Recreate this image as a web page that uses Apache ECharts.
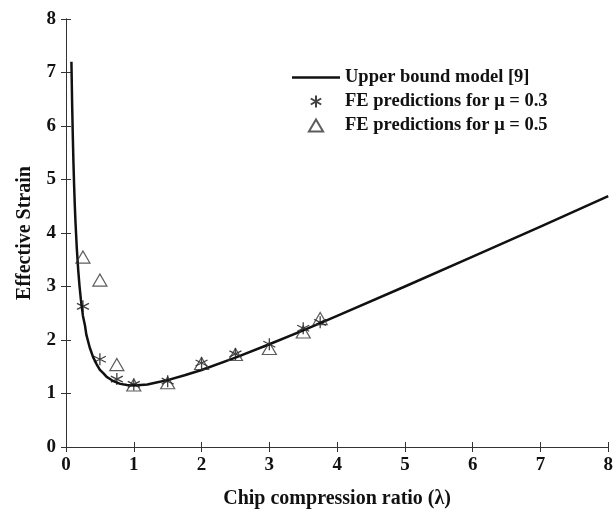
<!DOCTYPE html>
<html>
<head>
<meta charset="utf-8">
<script src="https://cdn.jsdelivr.net/npm/echarts@6/dist/echarts.min.js"></script>
<style>
  html, body { margin: 0; padding: 0; background: #fff; }
  #chart { width: 616px; height: 514px; }
</style>
</head>
<body>
<div id="chart"></div>
<script>
// values
const modelX = [0.08, 0.09, 0.1, 0.11, 0.12, 0.13, 0.14, 0.16, 0.18, 0.2, 0.22, 0.25, 0.28, 0.3, 0.35, 0.4, 0.45, 0.5, 0.55, 0.6, 0.65, 0.7, 0.8, 0.9, 1.0, 1.1, 1.2, 1.35, 1.5, 1.75, 2.0, 2.5, 3.0, 3.5, 4.0, 5.0, 6.0, 7.0, 8.0]
const modelY = [7.2, 6.45, 5.83, 5.31, 4.88, 4.51, 4.2, 3.7, 3.31, 3.0, 2.75, 2.45, 2.27, 2.1, 1.86, 1.68, 1.55, 1.44, 1.38, 1.31, 1.27, 1.23, 1.18, 1.16, 1.15, 1.16, 1.17, 1.21, 1.25, 1.34, 1.44, 1.67, 1.92, 2.18, 2.45, 3.0, 3.56, 4.12, 4.69]

const feX = [0.25, 0.5, 0.75, 1.0, 1.5, 2.0, 2.5, 3.0, 3.5, 3.75]
const fe03 = [2.63, 1.64, 1.27, 1.17, 1.23, 1.57, 1.74, 1.92, 2.22, 2.33]
const fe05 = [3.55, 3.12, 1.54, 1.16, 1.2, 1.56, 1.73, 1.84, 2.15, 2.4]

const xTicks = ['0', '1', '2', '3', '4', '5', '6', '7', '8']
const yTicks = ['0', '1', '2', '3', '4', '5', '6', '7', '8']

const seriesNames = ['Upper bound model [9]', 'FE predictions for \u03bc = 0.3', 'FE predictions for \u03bc = 0.5']

const font = '"Liberation Serif", "Times New Roman", serif'
const ink = '#111'
const asterisk = 'path://M0,-6 L0,6 M-5.2,-3 L5.2,3 M-5.2,3 L5.2,-3'
const triangle = 'path://M0,-6 L6.5,5 L-6.5,5 Z'
const lineIcon = 'path://M0,0 L48,0 L48,2.6 L0,2.6 Z'

function zip(xs, ys) {
  return xs.map((x, i) => [x, ys[i]])
}

const chart = echarts.init(document.getElementById('chart'))

const axisLine = { show: true, lineStyle: { color: '#333', width: 1 } }
const tick = { show: true, inside: true, length: 5, lineStyle: { color: '#333' } }

chart.setOption({
  animation: false,
  backgroundColor: '#fff',
  grid: { left: 66, right: 3, top: 19, bottom: 67 },
  legend: {
    orient: 'vertical',
    left: 287,
    top: 63,
    itemWidth: 48,
    itemHeight: 12,
    itemGap: 5,
    symbolKeepAspect: true,
    textStyle: { fontFamily: font, fontWeight: 'bold', fontSize: 18.5, lineHeight: 18, color: ink },
    data: [
      { name: seriesNames[0], icon: lineIcon },
      { name: seriesNames[1], icon: asterisk },
      { name: seriesNames[2], icon: triangle }
    ]
  },
  xAxis: [{
    type: 'value',
    min: 0,
    max: 8,
    interval: 1,
    name: 'Chip compression ratio (\u03bb)',
    nameLocation: 'middle',
    nameGap: 42,
    nameTextStyle: { fontFamily: font, fontWeight: 'bold', fontSize: 20, color: ink },
    axisLine: axisLine,
    axisTick: tick,
    splitLine: { show: false },
    axisLabel: {
      margin: 9,
      fontFamily: font, fontWeight: 'bold', fontSize: 19, color: ink,
      formatter: v => xTicks[Math.round(v)]
    }
  }, {
    type: 'value',
    position: 'top',
    min: 0,
    max: 8,
    interval: 1,
    axisLine: axisLine,
    axisTick: tick,
    axisLabel: { show: false },
    splitLine: { show: false }
  }],
  yAxis: [{
    type: 'value',
    min: 0,
    max: 8,
    interval: 1,
    name: 'Effective Strain',
    nameLocation: 'middle',
    nameGap: 31,
    nameTextStyle: { fontFamily: font, fontWeight: 'bold', fontSize: 20, color: ink },
    axisLine: axisLine,
    axisTick: tick,
    splitLine: { show: false },
    axisLabel: {
      margin: 10,
      fontFamily: font, fontWeight: 'bold', fontSize: 19, color: ink,
      formatter: v => yTicks[Math.round(v)]
    }
  }, {
    type: 'value',
    position: 'right',
    min: 0,
    max: 8,
    interval: 1,
    axisLine: axisLine,
    axisTick: tick,
    axisLabel: { show: false },
    splitLine: { show: false }
  }],
  series: [{
    name: seriesNames[0],
    type: 'line',
    data: zip(modelX, modelY),
    symbol: 'none',
    lineStyle: { color: ink, width: 2.5, join: 'round' },
    itemStyle: { color: ink },
    z: 2
  }, {
    name: seriesNames[1],
    type: 'scatter',
    data: zip(feX, fe03),
    symbol: asterisk,
    symbolSize: 12,
    itemStyle: { color: ink, borderColor: ink, borderWidth: 1.3 },
    z: 3
  }, {
    name: seriesNames[2],
    type: 'scatter',
    data: zip(feX, fe05),
    symbol: triangle,
    symbolSize: [14, 12],
    itemStyle: { color: 'rgba(255,255,255,0)', borderColor: '#333', borderWidth: 1.2 },
    z: 4
  }]
})
</script>
</body>
</html>
